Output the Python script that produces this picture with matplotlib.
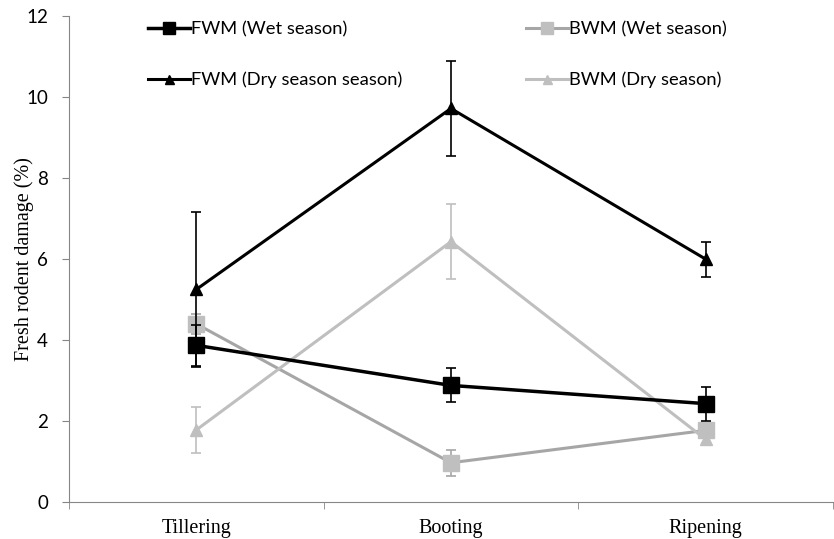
import matplotlib
matplotlib.use("Agg")
import matplotlib.pyplot as plt
import numpy as np

stages = ['Tillering', 'Booting', 'Ripening']

fwm_wet = [3.87, 2.88, 2.43]
fwm_wet_err = [0.5, 0.42, 0.42]
bwm_wet = [4.40, 0.97, 1.77]
bwm_wet_err = [0.25, 0.32, 0.12]
fwm_dry = [5.25, 9.72, 6.00]
fwm_dry_err = [1.92, 1.18, 0.43]
bwm_dry = [1.78, 6.43, 1.55]
bwm_dry_err = [0.57, 0.92, 0.1]

labels = ['FWM (Wet season)', 'FWM (Dry season season)',
          'BWM (Wet season)', 'BWM (Dry season)']

fig = plt.figure(figsize=(8.34, 5.39), dpi=100)
ax = fig.add_axes([0.0827, 0.0686, 0.916, 0.9014])
x = np.arange(len(stages))

h1 = ax.errorbar(x, fwm_wet, yerr=fwm_wet_err, color='black', lw=2.5,
                 marker='s', ms=11.5, capsize=3.5, elinewidth=1.2,
                 capthick=1.2, zorder=4)
h2 = ax.errorbar(x, fwm_dry, yerr=fwm_dry_err, color='black', lw=2.2,
                 marker='^', ms=9, capsize=3.5, elinewidth=1.2,
                 capthick=1.2, zorder=4)
h3 = ax.errorbar(x, bwm_wet, yerr=bwm_wet_err, color='#A6A6A6', lw=2.2,
                 marker='s', ms=11.5, mfc='#BFBFBF', mec='#BFBFBF',
                 ecolor='#A6A6A6', capsize=3.5, elinewidth=1.2,
                 capthick=1.2, zorder=3)
h4 = ax.errorbar(x, bwm_dry, yerr=bwm_dry_err, color='#BFBFBF', lw=2.2,
                 marker='^', ms=9, capsize=3.5, elinewidth=1.2,
                 capthick=1.2, zorder=3)

ax.set_xlim(-0.5, 2.5)
ax.set_ylim(0, 12)
ax.set_yticks(range(0, 13, 2))
ax.set_xticks(x)
ax.set_xticklabels(stages)
ax.set_xticks([-0.5, 0.5, 1.5, 2.5], minor=True)
ax.tick_params(axis='x', which='major', length=0, pad=12)
ax.tick_params(axis='x', which='minor', length=5, color='#868686')
ax.tick_params(axis='y', length=5, color='#868686', pad=10)
for lab in ax.get_xticklabels():
    lab.set_fontfamily('Liberation Serif')
    lab.set_fontsize(14.5)
for lab in ax.get_yticklabels():
    lab.set_fontfamily('Lato')
    lab.set_fontsize(13.5)
ax.set_ylabel('Fresh rodent damage (%)', fontfamily='Liberation Serif',
              fontsize=14.5)
ax.yaxis.set_label_coords(-0.046, 0.5)
for s in ['top', 'right']:
    ax.spines[s].set_visible(False)
for s in ['left', 'bottom']:
    ax.spines[s].set_color('#868686')

handles = [h1[0], h2[0], h3[0], h4[0]]
leg = fig.legend(handles, labels, ncol=2, loc='upper left',
                 bbox_to_anchor=(0.1775, 0.961), frameon=False,
                 prop={'family': 'Lato', 'size': 13.2},
                 borderpad=0, borderaxespad=0, markerscale=0.72,
                 labelspacing=1.89, columnspacing=6.75, handlelength=2.3,
                 handletextpad=0.05)

fig.savefig('out.png', dpi=100)
